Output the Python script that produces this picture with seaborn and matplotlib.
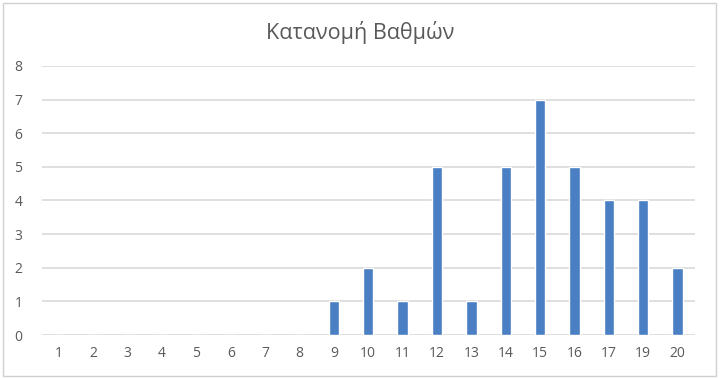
import matplotlib
matplotlib.use("Agg")
import matplotlib.pyplot as plt
import seaborn as sns
import pandas as pd

grades = ["1", "2", "3", "4", "5", "6", "7", "8", "9", "10", "11", "12", "13",
          "14", "15", "16", "17", "19", "20"]
counts = [0, 0, 0, 0, 0, 0, 0, 0, 1, 2, 1, 5, 1, 5, 7, 5, 4, 4, 2]
title = "Κατανομή Βαθμών"
yticks = [0, 1, 2, 3, 4, 5, 6, 7, 8]

sns.set_theme(style="white")
plt.rcParams['font.family'] = ['Open Sans', 'DejaVu Sans']

df = pd.DataFrame({"grade": grades, "count": counts})

fig = plt.figure(figsize=(7.2, 3.79), dpi=100)
ax = fig.add_axes([0.058, 0.116, 0.907, 0.71])

sns.barplot(data=df, x="grade", y="count", order=grades, color="#4a7fc3",
            width=0.3, saturation=1, ax=ax, zorder=3)

ax.set_ylim(0, 8)
ax.set_yticks(yticks)
ax.set_xlim(-0.5, len(grades) - 0.5)
ax.grid(axis="y", color="#d9d9d9", linewidth=1.2, zorder=0)
ax.set_axisbelow(True)
for s in ax.spines.values():
    s.set_visible(False)
ax.tick_params(axis="both", length=0, labelsize=10, labelcolor="#595959", pad=8)
ax.tick_params(axis="y", pad=14)
ax.set_xlabel("")
ax.set_ylabel("")
fig.text(0.5, 0.915, title, ha="center", va="center", fontsize=15.5, color="#595959")

# chart border
fig.patches.append(plt.Rectangle((0.004, 0.008), 0.99, 0.984, transform=fig.transFigure,
                                 fill=False, edgecolor="#d0d0d0", linewidth=1))

fig.savefig("out.png", dpi=100)
